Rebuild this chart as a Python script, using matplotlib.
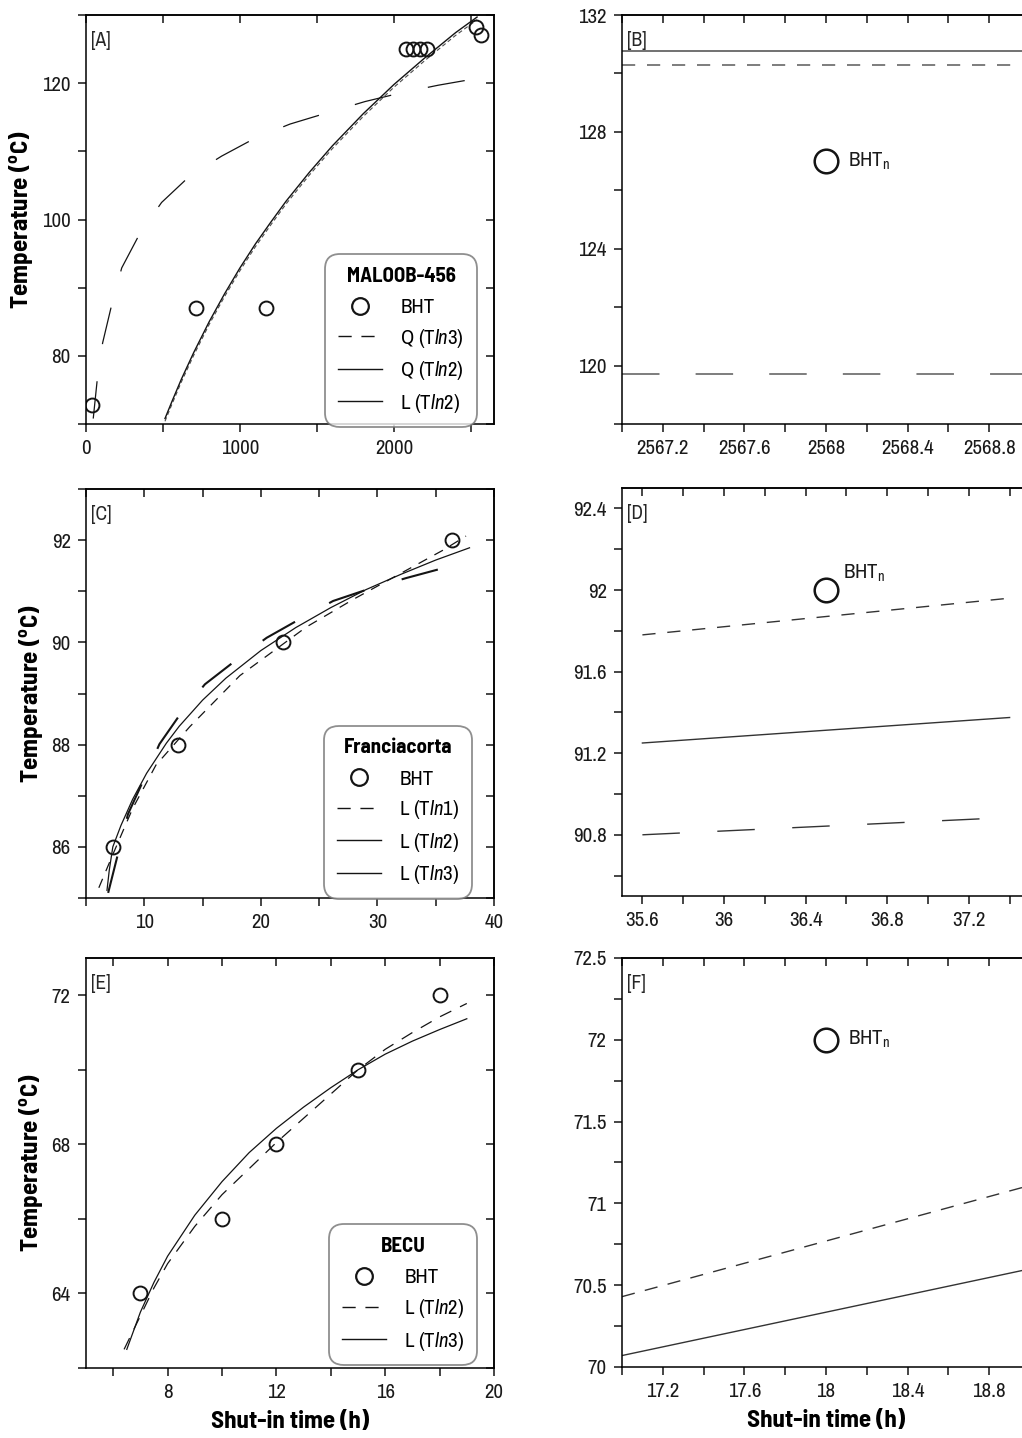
import matplotlib
matplotlib.use('Agg')
import matplotlib.pyplot as plt
from matplotlib.lines import Line2D
from matplotlib.ticker import FormatStrFormatter

REG = ['Archivo Narrow', 'DejaVu Sans']
BOLD = ['Barlow Semi Condensed', 'DejaVu Sans']
plt.rcParams['font.family'] = REG
plt.rcParams['mathtext.fontset'] = 'custom'
plt.rcParams['mathtext.rm'] = 'Archivo Narrow'
plt.rcParams['mathtext.it'] = 'Archivo Narrow:italic'
plt.rcParams['mathtext.bf'] = 'Barlow Semi Condensed:bold'
plt.rcParams['lines.scale_dashes'] = False
plt.rcParams['axes.linewidth'] = 1.1

# ---- MALOOB-456 ----
a_bht_t = [40, 715, 1170, 2080, 2125, 2170, 2215, 2530, 2568]
a_bht_T = [72.8, 87, 87, 125, 125, 125, 125, 128.2, 127]
a_q3_t = [47, 73, 108, 167, 232, 351, 491, 675, 881, 1104, 1325, 1574, 1812, 2050, 2288, 2541]
a_q3_T = [70.8, 76.5, 81.9, 87.5, 92.9, 98.0, 102.5, 106.4, 109.3, 112.0, 114.0, 115.7, 117.3, 118.6, 119.7, 120.7]
a_q2_t = [513, 560, 620, 700, 800, 900, 1000, 1100, 1200, 1300, 1450, 1600, 1800, 2000, 2200, 2400, 2540]
a_q2_T = [70.8, 73.4, 76.6, 80.5, 85.0, 89.1, 92.9, 96.4, 99.6, 102.7, 106.9, 110.8, 115.5, 119.8, 123.7, 127.4, 129.7]
a_l2_T = [70.4, 73.0, 76.2, 80.1, 84.6, 88.7, 92.5, 96.0, 99.2, 102.3, 106.5, 110.4, 115.1, 119.4, 123.3, 127.0, 129.3]

# zoom on last reading (2568 h)
b_t = [2567.0, 2569.0]
b_q2 = [130.76, 130.76]
b_l2 = [130.30, 130.30]
b_q3 = [119.72, 119.72]
b_bht = (2568, 127)

# ---- Franciacorta ----
c_bht_t = [7.3, 12.9, 21.9, 36.4]
c_bht_T = [86, 88, 90, 92]
c_l1_t = [6.1, 7.3, 9.0, 11.0, 13.9, 18.2, 23.9, 28.0, 32.0, 35.6, 37.6]
c_l1_T = [85.2, 85.85, 86.75, 87.6, 88.35, 89.35, 90.3, 90.85, 91.35, 91.8, 92.08]
c_l2_t = [6.8, 7.0, 7.3, 8.0, 9.0, 10.2, 11.9, 13.0, 15.0, 17.0, 20.0, 23.0, 26.0, 29.0, 32.0, 35.0, 37.9]
c_l2_T = [85.15, 85.55, 86.0, 86.42, 86.93, 87.44, 88.03, 88.36, 88.87, 89.30, 89.84, 90.29, 90.68, 91.03, 91.33, 91.61, 91.85]
c_l3_t = [6.9, 8.6, 9.9, 11.3, 13.1, 15.2, 17.8, 20.5, 23.3, 26.2, 29.2, 32.5, 35.6]
c_l3_T = [85.1, 86.64, 87.29, 88.01, 88.6, 89.18, 89.64, 90.09, 90.45, 90.81, 91.04, 91.26, 91.45]

d_t = [35.6, 37.4]
d_l1 = [91.78, 91.96]
d_l2 = [91.25, 91.375]
d_l3 = [90.80, 90.885]
d_bht = (36.5, 92)

# ---- BECU ----
e_bht_t = [7, 10, 12, 15, 18]
e_bht_T = [64, 66, 68, 70, 72]
e_l2_t = [6.4, 7, 7.5, 8, 9, 10, 11, 12, 13, 14, 15, 16, 17, 18, 19]
e_l2_T = [62.5, 63.4, 64.15, 64.8, 65.8, 66.65, 67.35, 68.05, 68.7, 69.35, 70.0, 70.55, 71.0, 71.42, 71.78]
e_l3_t = [6.5, 7, 7.5, 8, 9, 10, 11, 12, 13, 14, 15, 16, 17, 18, 19]
e_l3_T = [62.5, 63.5, 64.3, 65.0, 66.1, 67.0, 67.78, 68.43, 69.0, 69.52, 70.0, 70.42, 70.77, 71.08, 71.37]

f_t = [17.0, 19.0]
f_l2 = [70.43, 71.11]
f_l3 = [70.07, 70.60]
f_bht = (18, 72)

K = '0.08'
TICK = dict(which='both', length=6, width=1.1, color=K)


def frame(ax, xlim, ylim, xmaj, xmin, ymaj, ymin, tag):
    ax.set_xlim(xlim)
    ax.set_ylim(ylim)
    ax.set_xticks(xmaj)
    ax.set_xticks(xmin, minor=True)
    ax.set_yticks(ymaj)
    ax.set_yticks(ymin, minor=True)
    ax.xaxis.set_major_formatter(FormatStrFormatter('%g'))
    ax.yaxis.set_major_formatter(FormatStrFormatter('%g'))
    ax.tick_params(direction='out', labelsize=15, pad=5, labelcolor='0.1', **TICK)
    top = ax.secondary_xaxis('top')
    top.set_xticks(xmaj)
    top.set_xticks(xmin, minor=True)
    top.tick_params(direction='in', labeltop=False, **TICK)
    right = ax.secondary_yaxis('right')
    right.set_yticks(ymaj)
    right.set_yticks(ymin, minor=True)
    right.tick_params(direction='in', labelright=False, **TICK)
    ax.text(0.012, 0.962, tag, transform=ax.transAxes, ha='left', va='top',
            fontsize=14, color='0.15')


def legend(ax, title, labels, styles, anchor):
    hs = [Line2D([], [], ls='none', marker='o', ms=12, mfc='none', mec=K, mew=1.6)]
    for st in styles:
        hs.append(Line2D([], [], color=K, lw=1.0, **st))
    leg = ax.legend(hs, ['BHT'] + labels, title=title, loc='lower right',
                    bbox_to_anchor=anchor, fontsize=15, handlelength=2.1,
                    handletextpad=0.9, labelspacing=0.46, borderpad=0.6,
                    borderaxespad=0, frameon=True, fancybox=True,
                    title_fontproperties={'family': BOLD, 'weight': 'bold', 'size': 15})
    leg._legend_box.sep = 9
    fr = leg.get_frame()
    fr.set_edgecolor('0.45')
    fr.set_linewidth(1.3)
    fr.set_boxstyle('round', pad=0, rounding_size=0.7)
    leg.set_zorder(5)


def bhtn(ax, pt, dx, dy):
    ax.plot([pt[0]], [pt[1]], ls='none', marker='o', ms=17, mfc='none', mec=K, mew=1.8)
    ax.text(pt[0] + dx, pt[1] + dy, r'BHT$_\mathregular{n}$', fontsize=15,
            ha='left', va='center', color='0.1')


fig = plt.figure(figsize=(10.22, 14.38), dpi=100)
W, H = 1022, 1438


def place(l, t, r, b):
    return fig.add_axes([l / W, 1 - b / H, (r - l) / W, (b - t) / H])


axA = place(86, 15, 494, 424)
axB = place(622, 15, 1030, 424)
axC = place(86, 489, 494, 898)
axD = place(622, 488, 1030, 896)
axE = place(86, 958, 494, 1368)
axF = place(622, 958, 1030, 1367)

ylab = r'Temperature ($^{\mathbf{o}}$C)'
xlab = 'Shut-in time (h)'
LAB = dict(fontsize=18, family=BOLD, fontweight='bold')
longd = dict(dashes=(27, 27))

# [A]
frame(axA, (0, 2650), (70, 130), [0, 1000, 2000], [500, 1500, 2500],
      [80, 100, 120], [70, 90, 110, 130], '[A]')
axA.plot(a_q3_t, a_q3_T, color=K, lw=0.9, **longd)
axA.plot(a_q2_t, a_l2_T, color='0.3', lw=0.8, dashes=(3, 2))
axA.plot(a_q2_t, a_q2_T, color=K, lw=1.0)
axA.plot(a_bht_t, a_bht_T, ls='none', marker='o', ms=10, mfc='none', mec=K, mew=1.4)
legend(axA, 'MALOOB-456', [r'Q (T$\mathit{ln}$3)', r'Q (T$\mathit{ln}$2)', r'L (T$\mathit{ln}$2)'],
       [dict(dashes=(9.5, 7)), {}, {}], (0.958, -0.008))
axA.set_ylabel(ylab, labelpad=5, **LAB)

# [B]
frame(axB, (2567.0, 2569.0), (118, 132),
      [2567.2, 2567.6, 2568.0, 2568.4, 2568.8], [2567.0, 2567.4, 2567.8, 2568.2, 2568.6, 2569.0],
      [120, 124, 128, 132], [118, 122, 126, 130], '[B]')
axB.plot(b_t, b_q2, color='0.4', lw=1.3)
axB.plot(b_t, b_l2, color='0.45', lw=1.3, dashes=(9.5, 8.5))
axB.plot(b_t, b_q3, color='0.45', lw=1.3, dashes=(27, 26), dash_capstyle='butt')
bhtn(axB, b_bht, 0.108, 0)

# [C]
frame(axC, (5, 40), (85, 93), [10, 20, 30, 40], [5, 15, 25, 35],
      [86, 88, 90, 92], [85, 87, 89, 91, 93], '[C]')
axC.plot(c_l1_t, c_l1_T, color=K, lw=0.9, dashes=(7, 6))
axC.plot(c_l3_t, c_l3_T, color=K, lw=1.5, dashes=(27, 28))
axC.plot(c_l2_t, c_l2_T, color=K, lw=0.9)
axC.plot(c_bht_t, c_bht_T, ls='none', marker='o', ms=10, mfc='none', mec=K, mew=1.4)
legend(axC, 'Franciacorta', [r'L (T$\mathit{ln}$1)', r'L (T$\mathit{ln}$2)', r'L (T$\mathit{ln}$3)'],
       [dict(dashes=(9.5, 7)), {}, {}], (0.946, -0.002))
axC.set_ylabel(ylab, labelpad=5, **LAB)

# [D]
frame(axD, (35.5, 37.5), (90.5, 92.5), [35.6, 36.0, 36.4, 36.8, 37.2],
      [35.8, 36.2, 36.6, 37.0, 37.4], [90.8, 91.2, 91.6, 92.0, 92.4],
      [90.6, 91.0, 91.4, 91.8, 92.2], '[D]')
axD.plot(d_t, d_l1, color='0.2', lw=1.0, dashes=(9.5, 8.5))
axD.plot(d_t, d_l2, color='0.2', lw=1.0)
axD.plot(d_t, d_l3, color='0.2', lw=1.0, dashes=(27, 27))
bhtn(axD, d_bht, 0.085, 0.08)

# [E]
frame(axE, (5, 20), (62, 73), [8, 12, 16, 20], [6, 10, 14, 18],
      [64, 68, 72], [62, 66, 70], '[E]')
axE.plot(e_l2_t, e_l2_T, color=K, lw=0.9, dashes=(9, 7))
axE.plot(e_l3_t, e_l3_T, color=K, lw=0.9)
axE.plot(e_bht_t, e_bht_T, ls='none', marker='o', ms=10, mfc='none', mec=K, mew=1.4)
legend(axE, 'BECU', [r'L (T$\mathit{ln}$2)', r'L (T$\mathit{ln}$3)'],
       [dict(dashes=(9.5, 7)), {}], (0.958, 0.007))
axE.set_ylabel(ylab, labelpad=5, **LAB)
axE.set_xlabel(xlab, labelpad=6, **LAB)

# [F]
frame(axF, (17.0, 19.0), (70.0, 72.5), [17.2, 17.6, 18.0, 18.4, 18.8],
      [17.0, 17.4, 17.8, 18.2, 18.6, 19.0], [70, 70.5, 71, 71.5, 72, 72.5],
      [70.25, 70.75, 71.25, 71.75, 72.25], '[F]')
axF.plot(f_t, f_l2, color='0.2', lw=1.0, dashes=(9.5, 7.5))
axF.plot(f_t, f_l3, color='0.2', lw=1.0)
bhtn(axF, f_bht, 0.11, 0)
axF.set_xlabel(xlab, labelpad=6, **LAB)

fig.savefig('out.png', dpi=100)
